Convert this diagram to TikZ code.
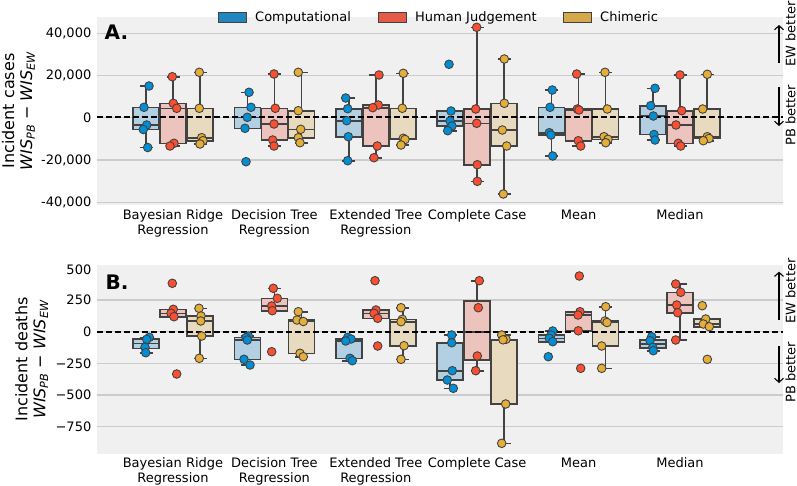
\documentclass[tikz,border=0pt]{standalone}
\usepackage{fontspec}
\setmainfont{DejaVu Sans}
\usetikzlibrary{arrows.meta}
\definecolor{panelbg}{HTML}{F0F0F0}
\definecolor{gridc}{HTML}{CBCBCB}
\definecolor{edgec}{HTML}{424242}
\definecolor{compc}{HTML}{008FD5}
\definecolor{humc}{HTML}{FC4F30}
\definecolor{chimc}{HTML}{E5AE38}
\definecolor{compl}{HTML}{2186C0}
\definecolor{huml}{HTML}{E55B45}
\definecolor{chiml}{HTML}{D4A84B}
\definecolor{compf}{HTML}{B2D0E2}
\definecolor{humf}{HTML}{EDC3BD}
\definecolor{chimf}{HTML}{E8DABE}
\tikzset{
  whisk/.style={edgec,line width=1.6pt},
  boxst/.style={draw=edgec,line width=1.6pt},
  dot/.style={draw=edgec,line width=0.9pt},
  grid line/.style={gridc,line width=1.4pt},
  zero line/.style={black,line width=1.7pt,dash pattern=on 6pt off 3pt},
  tick/.style={font=\fontsize{13}{15}\selectfont,anchor=east,inner sep=0pt},
  catlab/.style={font=\fontsize{13}{15}\selectfont,align=center,anchor=north,inner sep=0pt},
  ylab/.style={font=\fontsize{16}{18}\selectfont,align=center,rotate=90,inner sep=0pt},
  side/.style={font=\fontsize{13}{15}\selectfont,rotate=90,inner sep=0pt},
  letter/.style={font=\fontsize{20}{22}\bfseries,anchor=west,inner sep=0pt},
  leg/.style={font=\fontsize{13}{15}\selectfont,anchor=base west,inner sep=0pt},
  better/.style={-{Straight Barb[length=4pt,width=9pt]},line width=1.1pt},
}
% box: x, whisker top, q3, median, q1, whisker bottom, fill
\newcommand{\bxp}[7]{%
  \draw[whisk] (#1,#2) -- (#1,#3) (#1,#5) -- (#1,#6);
  \draw[whisk] (#1-6.5,#2) -- (#1+6.5,#2) (#1-6.5,#6) -- (#1+6.5,#6);
  \filldraw[boxst,fill=#7] (#1-13,#3) rectangle (#1+13,#5);
  \draw[whisk] (#1-13,#4) -- (#1+13,#4);
}
\newcommand{\pts}[2]{%
  \foreach \px/\py in {#2} \filldraw[dot,fill=#1] (\px,\py) circle[radius=4.3pt];
}
\begin{document}
\begin{tikzpicture}[x=1pt,y=-1pt]
\useasboundingbox (0,0) rectangle (797,485);

% panel backgrounds and grid
\fill[panelbg] (97,17) rectangle (783,205);
\fill[panelbg] (97,265) rectangle (783,454);
\foreach \gy in {33.3,75.7,117.3,160,202.3}
  \draw[grid line] (97,\gy) -- (783,\gy);
\foreach \gy in {300,331.7,363.3,395,426.7}
  \draw[grid line] (97,\gy) -- (783,\gy);

% tick labels
\foreach \gy/\lab [count=\i] in {33.3/{40,000},75.7/{20,000},117.3/0,160/{-20,000},202.3/{-40,000}}
  \node[tick] (tickA\i) at (91.5,\gy) {\lab};
\foreach \gy/\lab [count=\i] in {269.5/500,300/250,331.7/0,363.3/−250,395/−500,426.7/−750}
  \node[tick] (tickB\i) at (91.5,\gy) {\lab};

% category labels
\foreach \cx/\lab [count=\i] in {173/{Bayesian Ridge\\Regression},274.4/{Decision Tree\\Regression},375.8/{Extended Tree\\Regression},477.2/{Complete Case},578.6/{Mean},680/{Median}}
{
  \node[catlab] (catA\i) at (\cx,209.5) {\lab};
  \node[catlab] (catB\i) at (\cx,457.8) {\lab};
}

% axis labels
\node[ylab] (ylabA) at (18.4,111) {Incident cases\\{\itshape WIS\textsubscript{PB}} − {\itshape WIS\textsubscript{EW}}};
\node[ylab] (ylabB) at (31.7,359.5) {Incident deaths\\{\itshape WIS\textsubscript{PB}} − {\itshape WIS\textsubscript{EW}}};
\node[letter] (letA) at (104.5,32.7) {A.};
\node[letter] (letB) at (105.5,282) {B.};

% legend
\filldraw[compl,draw=edgec,line width=0.5pt] (218,12) rectangle (246,22);
\node[leg] (legC) at (255,21) {Computational};
\filldraw[huml,draw=edgec,line width=0.5pt] (378,12) rectangle (406,22);
\node[leg] (legH) at (415,21) {Human Judgement};
\filldraw[chiml,draw=edgec,line width=0.5pt] (563,12) rectangle (591,22);
\node[leg] (legM) at (600,21) {Chimeric};

% better arrows
\coordinate (ewA0) at (779,63);  \coordinate (ewA1) at (779,25);
\coordinate (pbA0) at (779,87);  \coordinate (pbA1) at (779,126);
\coordinate (ewB0) at (779,320); \coordinate (ewB1) at (779,271.7);
\coordinate (pbB0) at (779,346); \coordinate (pbB1) at (779,383);
\draw[better] (ewA0) -- (ewA1);
\draw[better] (pbA0) -- (pbA1);
\draw[better] (ewB0) -- (ewB1);
\draw[better] (pbB0) -- (pbB1);
\node[side] (ewA) at (790.5,34) {EW better};
\node[side] (pbA) at (790.5,115) {PB better};
\node[side] (ewB) at (790.5,291) {EW better};
\node[side] (pbB) at (790.5,372) {PB better};

% panel A boxes
\bxp{146}{86}{107.3}{125}{129.5}{147.5}{compf}
\bxp{173}{76.7}{103.3}{108.3}{143.3}{146}{humf}
\bxp{200}{72.3}{108.3}{137.7}{140.7}{144}{chimf}
\bxp{247.4}{92.3}{107.3}{117.3}{128.3}{128.3}{compf}
\bxp{274.4}{74}{108.3}{124}{140}{146}{humf}
\bxp{301.4}{72.3}{110.7}{129.3}{137.7}{142.7}{chimf}
\bxp{348.8}{98}{108.7}{120.7}{136.7}{160.7}{compf}
\bxp{375.8}{75}{105}{107.7}{146}{157.7}{humf}
\bxp{402.8}{73.3}{108.3}{138.3}{139.5}{145}{chimf}
\bxp{450.2}{111}{111}{121}{126}{130.7}{compf}
\bxp{477.2}{27.3}{109}{123.3}{164.7}{181.3}{humf}
\bxp{504.2}{59}{103.3}{130}{146}{194}{chimf}
\bxp{551.6}{90}{107.3}{132.7}{135}{156}{compf}
\bxp{578.6}{74}{109}{110}{140.7}{146}{humf}
\bxp{605.6}{72.3}{109}{136.7}{139.3}{142.7}{chimf}
\bxp{653}{88.3}{105.7}{116}{134.5}{140}{compf}
\bxp{680}{75}{110.7}{125}{143.3}{146}{humf}
\bxp{707}{74.3}{109}{136.7}{138.5}{140.7}{chimf}

% panel B boxes
\bxp{146}{337.3}{338.8}{343.3}{348.6}{352.7}{compf}
\bxp{173}{309.3}{309.3}{313.3}{316.7}{316.7}{humf}
\bxp{200}{308.3}{316}{321}{336}{358.3}{chimf}
\bxp{247.4}{336}{337.5}{340}{359.3}{365}{compf}
\bxp{274.4}{288.3}{298.3}{306}{310.7}{310.7}{humf}
\bxp{301.4}{311.7}{320}{321}{353.3}{356.7}{chimf}
\bxp{348.8}{337.3}{339}{341}{358.3}{360.7}{compf}
\bxp{375.8}{310}{310}{313.3}{318.3}{318.3}{humf}
\bxp{402.8}{307.7}{319.3}{321.7}{345.7}{359.3}{chimf}
\bxp{450.2}{335}{342.7}{370.7}{380}{388.3}{compf}
\bxp{477.2}{280.7}{301}{331.9}{359.7}{370.7}{humf}
\bxp{504.2}{335}{339.3}{339.8}{404}{443.3}{chimf}
\bxp{551.6}{331}{335}{338.3}{341.7}{341.7}{compf}
\bxp{578.6}{311.7}{312}{315}{330.8}{330.8}{humf}
\bxp{605.6}{306.7}{321}{322}{346}{368.3}{chimf}
\bxp{653}{336.7}{339.7}{344}{348.2}{350.7}{compf}
\bxp{680}{284}{292.3}{305}{312.7}{340}{humf}
\bxp{707}{319}{319}{324}{326.7}{326.7}{chimf}

% zero lines
\coordinate (zA0) at (97,117.3);  \coordinate (zA1) at (783,117.3);
\coordinate (zB0) at (97,331.7);  \coordinate (zB1) at (783,331.7);
\draw[zero line] (zA0) -- (zA1);
\draw[zero line] (zB0) -- (zB1);

% panel A points
\pts{compc}{149/86, 144/107.3, 146.7/125, 143.3/129.5, 147.7/147.5}
\pts{humc}{172.3/76.7, 173.3/103.3, 176.7/108.3, 174/143.3, 170/146}
\pts{chimc}{199.3/72.3, 199.3/108.3, 201.7/137.7, 203/140.7, 200/144}
\pts{compc}{249/92.3, 251/107.3, 247.3/117.3, 245/128.3, 246/161.7}
\pts{humc}{274/74, 275.3/108.3, 274/124, 272.7/140, 274/146}
\pts{chimc}{298.3/72.3, 298.3/110.7, 300.7/129.3, 298.3/137.7, 300/142.7}
\pts{compc}{345.7/98, 347.7/108.7, 346.7/120.7, 348.3/136.7, 347.7/160.7}
\pts{humc}{379/75, 378.3/105, 372.7/107.7, 377.3/146, 374/157.7}
\pts{chimc}{403.3/73.3, 402.3/108.3, 403.3/138.3, 405/139.5, 401/145}
\pts{compc}{449/64.3, 451/111, 450/121, 452/126, 447.7/130.7}
\pts{humc}{476.7/27.3, 475.7/109, 476.7/123.3, 477.3/164.7, 477.3/181.3}
\pts{chimc}{504.3/59, 504.3/103.3, 502.3/130, 506.7/146, 503.3/194}
\pts{compc}{552.3/90, 550/107.3, 549.3/132.7, 551/135, 552.7/156}
\pts{humc}{576.7/74, 577.3/109, 579/110, 578.3/140.7, 580.7/146}
\pts{chimc}{605/72.3, 607.3/109, 604/136.7, 608/139.3, 605.7/142.7}
\pts{compc}{655/88.3, 650.7/105.7, 653.3/116, 654/134.5, 655/140}
\pts{humc}{680/75, 681.7/110.7, 676/125, 678.3/143.3, 680.7/146}
\pts{chimc}{707.3/74.3, 702.7/109, 707.3/136.7, 709/138.5, 703.3/140.7}

% panel B points
\pts{compc}{149.3/337.3, 146.7/339.3, 145/347.3, 145.7/352.7}
\pts{humc}{172.3/283.3, 173.3/309.3, 171/313.3, 174/316.7, 176.7/374}
\pts{chimc}{199/308.3, 201/316, 200.7/321, 201.7/336, 199.3/358.3}
\pts{compc}{248.3/336, 246/337.5, 247.3/340, 244/359.3, 250/365}
\pts{humc}{273.3/288.3, 277.3/298.3, 271.7/306, 272.3/310.7, 271.7/351.7}
\pts{chimc}{298.3/311.7, 297/320, 303.3/321.5, 300/353.3, 303.3/356.7}
\pts{compc}{347.7/337.3, 351/339, 345.7/341, 350/358.3, 352.3/360.7}
\pts{humc}{375/280.7, 376/310, 374/313.3, 377.7/318.3, 377.7/346}
\pts{chimc}{401/307.7, 402.3/319.3, 401/321.7, 404/345.7, 401/359.3}
\pts{compc}{451.7/335, 451.7/342.7, 452.3/370.7, 447.3/380, 453.3/388.3}
\pts{humc}{479.3/280.7, 478.3/307.7, 477.3/356, 475.7/370.7}
\pts{chimc}{501.7/335, 506/339.3, 503/339.8, 505.7/404, 501.7/443.3}
\pts{compc}{552.7/331, 551/335, 549.3/338.3, 552.7/341.7, 548.3/356.7}
\pts{humc}{579.3/276, 580/311.7, 578/315, 578.3/330.8, 580.7/368.3}
\pts{chimc}{605.7/306.7, 605/321, 607/322.5, 601.7/346, 601.7/368.3}
\pts{compc}{651.7/336.7, 650/340.7, 652.7/347.3, 653.3/350.7}
\pts{humc}{675.7/284, 680.7/292.3, 676.7/305, 677.7/312.7, 675.7/340}
\pts{chimc}{702.3/305.7, 705.7/319, 703.3/324, 709.3/326.7, 707.3/359.3}
\end{tikzpicture}
\end{document}
